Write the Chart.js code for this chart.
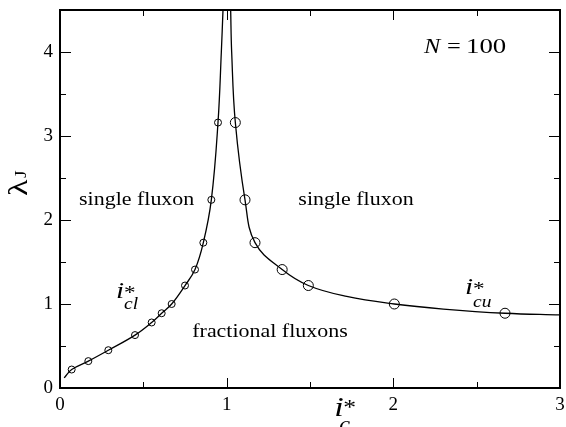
<!DOCTYPE html>
<html>
<head>
<meta charset="utf-8">
<script src="https://cdn.jsdelivr.net/npm/chart.js@4.4.1/dist/chart.umd.min.js"></script>
<style>
  html, body { margin: 0; padding: 0; background: #fff; }
  #wrap { width: 566px; height: 427px; }
  .warm { position: absolute; left: -9999px; top: 0; font-family: "Liberation Serif", "Times New Roman", serif; }
</style>
</head>
<body>
<div class="warm">single fluxon <i>N i</i> 0123 λ J</div>
<div id="wrap"><canvas id="c" width="566" height="427"></canvas></div>
<script>
// lower branch i_cl* (curve and simulation points)
let leftCurveX = [0.025, 0.07, 0.17, 0.29, 0.45, 0.55, 0.61, 0.67, 0.75, 0.81, 0.86, 0.908, 0.948, 0.968, 0.978];
let leftCurveY = [0.12, 0.22, 0.32, 0.45, 0.63, 0.78, 0.89, 1.0, 1.22, 1.41, 1.73, 2.24, 3.16, 4.0, 4.5];
let leftPtsX = [0.07, 0.17, 0.29, 0.45, 0.55, 0.61, 0.67, 0.75, 0.81, 0.86, 0.908, 0.948];
let leftPtsY = [0.22, 0.32, 0.45, 0.63, 0.78, 0.89, 1.0, 1.22, 1.41, 1.73, 2.24, 3.16];

// upper branch i_cu*
let rightCurveX = [1.024, 1.03, 1.052, 1.11, 1.17, 1.333, 1.49, 1.72, 2.006, 2.3, 2.67, 3.0];
let rightCurveY = [4.5, 4.0, 3.16, 2.24, 1.73, 1.41, 1.22, 1.09, 1.0, 0.94, 0.89, 0.87];
let rightPtsX = [1.052, 1.11, 1.17, 1.333, 1.49, 2.006, 2.67];
let rightPtsY = [3.16, 2.24, 1.73, 1.41, 1.22, 1.0, 0.89];

let xTicks = [0, 1, 2, 3];
let yTicks = [0, 1, 2, 3, 4];
let xMinor = [0.5, 1.5, 2.5];
let yMinor = [0.5, 1.5, 2.5, 3.5];

function pts(xs, ys) {
  return xs.map((x, i) => ({ x: x, y: ys[i] }));
}

const SERIF = "'Liberation Serif', 'Times New Roman', Times, 'Nimbus Roman', serif";
const SX = 1.22; // the original lettering is a bit wide

function txt(ctx, s, x, y, font, align) {
  ctx.save();
  ctx.translate(x, y);
  ctx.scale(SX, 1);
  ctx.font = font;
  ctx.textAlign = align || "left";
  ctx.textBaseline = "alphabetic";
  ctx.fillText(s, 0, 0);
  ctx.restore();
}

const decor = {
  id: "decor",
  afterDraw(chart) {
    let ctx = chart.ctx;
    let a = chart.chartArea;
    let xs = chart.scales.x;
    let ys = chart.scales.y;
    ctx.save();
    ctx.strokeStyle = "#000";
    ctx.fillStyle = "#000";

    // inward ticks on all sides
    ctx.lineWidth = 1;
    ctx.beginPath();
    xTicks.concat(xMinor).forEach(v => {
      let len = xTicks.includes(v) ? 10 : 6;
      let px = Math.round(xs.getPixelForValue(v)) + 0.5;
      ctx.moveTo(px, a.bottom); ctx.lineTo(px, a.bottom - len);
      ctx.moveTo(px, a.top); ctx.lineTo(px, a.top + len);
    });
    yTicks.concat(yMinor).forEach(v => {
      let len = yTicks.includes(v) ? 11 : 6;
      let py = Math.round(ys.getPixelForValue(v)) + 0.5;
      ctx.moveTo(a.left, py); ctx.lineTo(a.left + len, py);
      ctx.moveTo(a.right, py); ctx.lineTo(a.right - len, py);
    });
    ctx.stroke();

    // frame
    ctx.lineWidth = 2;
    ctx.strokeRect(a.left, a.top, a.right - a.left, a.bottom - a.top);

    // region labels
    let f = "18px " + SERIF;
    txt(ctx, "single fluxon", xs.getPixelForValue(0.46), ys.getPixelForValue(2.18), f, "center");
    txt(ctx, "single fluxon", xs.getPixelForValue(1.776), ys.getPixelForValue(2.18), f, "center");
    txt(ctx, "fractional fluxons", xs.getPixelForValue(1.26), ys.getPixelForValue(0.61), f, "center");

    // N = 100
    let nx = xs.getPixelForValue(2.184);
    let ny = ys.getPixelForValue(3.99);
    txt(ctx, "N", nx, ny, "italic 20px " + SERIF);
    txt(ctx, "=", nx + 23, ny, "20px " + SERIF);
    txt(ctx, "100", nx + 42, ny, "22px " + SERIF);

    // i*_cl
    let cx = xs.getPixelForValue(0.336);
    let cy = ys.getPixelForValue(1.07);
    txt(ctx, "i", cx, cy, "italic 24px " + SERIF);
    txt(ctx, "*", cx + 8, cy + 1, "19px " + SERIF);
    txt(ctx, "cl", cx + 8, cy + 11, "italic 16px " + SERIF);

    // i*_cu
    let ux = xs.getPixelForValue(2.43);
    let uy = ys.getPixelForValue(1.12);
    txt(ctx, "i", ux, uy, "italic 24px " + SERIF);
    txt(ctx, "*", ux + 8, uy + 1, "19px " + SERIF);
    txt(ctx, "cu", ux + 8, uy + 13, "italic 16px " + SERIF);

    // x axis title i*_c
    let tx = xs.getPixelForValue(1.645);
    txt(ctx, "i", tx, 416, "italic 28px " + SERIF);
    txt(ctx, "*", tx + 9, 414, "21px " + SERIF);
    txt(ctx, "c", tx + 5, 431, "italic 20px " + SERIF);

    // y axis title lambda_J
    ctx.save();
    ctx.translate(27, 196);
    ctx.rotate(-Math.PI / 2);
    txt(ctx, "λ", 0, 0, "28px " + SERIF);
    txt(ctx, "J", 18, -1, "16px " + SERIF);
    ctx.restore();

    ctx.restore();
  }
};

function draw() {
  new Chart(document.getElementById("c"), {
    type: "scatter",
    data: {
      datasets: [
        {
          data: pts(leftCurveX, leftCurveY),
          showLine: true,
          pointRadius: 0,
          borderColor: "#000",
          borderWidth: 1.3,
          tension: 0.4,
        },
        {
          data: pts(rightCurveX, rightCurveY),
          showLine: true,
          pointRadius: 0,
          borderColor: "#000",
          borderWidth: 1.3,
          tension: 0.4,
        },
        {
          data: pts(leftPtsX, leftPtsY),
          pointRadius: 3.5,
          pointBorderWidth: 1,
          pointBorderColor: "#000",
          pointBackgroundColor: "rgba(0,0,0,0)",
        },
        {
          data: pts(rightPtsX, rightPtsY),
          pointRadius: 5,
          pointBorderWidth: 1,
          pointBorderColor: "#000",
          pointBackgroundColor: "rgba(0,0,0,0)",
        },
      ],
    },
    options: {
      responsive: false,
      animation: false,
      events: [],
      layout: { padding: { top: 10, right: 6, left: 0, bottom: 0 } },
      plugins: { legend: { display: false }, tooltip: { enabled: false } },
      scales: {
        x: {
          type: "linear",
          min: 0,
          max: 3,
          afterFit: s => { s.height = 39; s.paddingLeft = 0; s.paddingRight = 0; },
          grid: { display: false, drawTicks: false },
          border: { display: false },
          ticks: {
            stepSize: 1,
            padding: 6,
            color: "#000",
            font: { family: SERIF, size: 19 },
          },
        },
        y: {
          type: "linear",
          min: 0,
          max: 4.5,
          afterFit: s => { s.width = 60; s.paddingTop = 0; s.paddingBottom = 0; },
          grid: { display: false, drawTicks: false },
          border: { display: false },
          ticks: {
            stepSize: 1,
            includeBounds: false,
            padding: 7,
            color: "#000",
            font: { family: SERIF, size: 19 },
          },
        },
      },
    },
    plugins: [decor],
  });
}

document.fonts.ready.then(draw);
</script>
</body>
</html>
